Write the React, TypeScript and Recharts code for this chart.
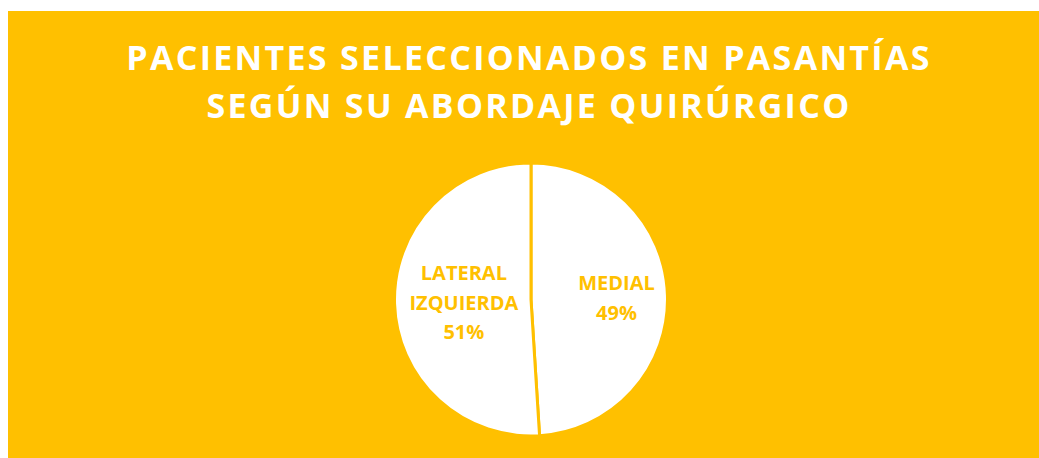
import React from "react";
import { PieChart, Pie, Cell } from "recharts";

const categories = ["MEDIAL", "LATERAL IZQUIERDA"];
const percents = [49, 51];
const titleLines = [
  "PACIENTES SELECCIONADOS EN PASANTÍAS",
  "SEGÚN SU ABORDAJE QUIRÚRGICO",
];

const YELLOW = "#FFC000";
const FONT = "'Open Sans', sans-serif";

const data = categories.map((name, i) => ({ name, value: percents[i] }));

const RADIAN = Math.PI / 180;

// label sits as far out as it can while its widest line stays inside the slice
function SliceLabel(props: any) {
  const { cx, cy, midAngle, outerRadius, name, value } = props;
  const lines = [...String(name).split(" "), `${value}%`];
  const longest = Math.max(...lines.map((l) => l.length));
  const r = outerRadius - (longest * 12.3) / 2 - 14;
  const x = cx + r * Math.cos(-midAngle * RADIAN);
  const y = cy + r * Math.sin(-midAngle * RADIAN);
  const lh = 29.5;
  const top = y - ((lines.length - 1) * lh) / 2;
  return (
    <text
      x={x}
      y={top}
      textAnchor="middle"
      dominantBaseline="central"
      fill={YELLOW}
      fontFamily={FONT}
      fontWeight={700}
      fontSize={20}
    >
      {lines.map((l, i) => (
        <tspan key={i} x={x} y={top + i * lh}>
          {l}
        </tspan>
      ))}
    </text>
  );
}

export default function App() {
  return (
    <div
      style={{
        position: "fixed",
        left: 8,
        top: 11,
        width: 1031,
        height: 447,
        background: YELLOW,
        overflow: "hidden",
      }}
    >
      {/* Title */}
      <div
        style={{
          position: "absolute",
          left: 0,
          top: 22,
          width: 1042,
          textAlign: "center",
          color: "#fff",
          fontFamily: FONT,
          fontWeight: 700,
          fontSize: 34,
          lineHeight: "48px",
          letterSpacing: 2.3,
        }}
      >
        {titleLines.map((t) => (
          <div key={t}>{t}</div>
        ))}
      </div>

      <div style={{ position: "absolute", left: 0, top: 0 }}>
        <PieChart width={1031} height={447}>
          <Pie
            data={data}
            dataKey="value"
            nameKey="name"
            cx={518}
            cy={283.5}
            outerRadius={136.5}
            startAngle={90}
            endAngle={-270}
            stroke={YELLOW}
            strokeWidth={3}
            label={SliceLabel}
            labelLine={false}
            isAnimationActive={false}
          >
            {data.map((d) => (
              <Cell key={d.name} fill="#ffffff" />
            ))}
          </Pie>
        </PieChart>
      </div>
    </div>
  );
}
